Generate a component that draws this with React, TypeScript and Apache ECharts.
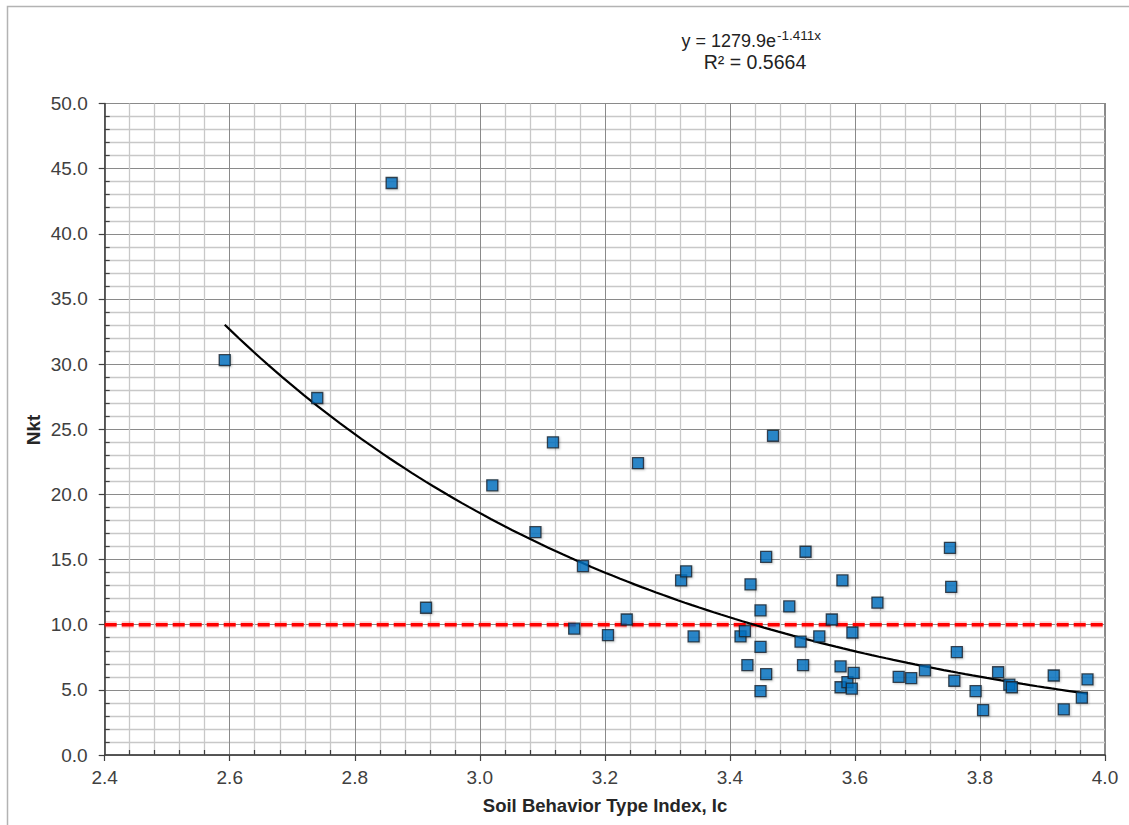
import React, { useEffect, useRef } from "react";
import * as echarts from "echarts";

// Soil Behavior Type Index, Ic
const IC_VALUES = [
  2.592, 2.740, 2.859, 2.914, 3.020, 3.089, 3.117, 3.151, 3.165, 3.205,
  3.235, 3.253, 3.322, 3.330, 3.342, 3.417, 3.424, 3.428, 3.433, 3.449,
  3.449, 3.449, 3.458, 3.458, 3.469, 3.495, 3.513, 3.517, 3.521, 3.543,
  3.563, 3.577, 3.577, 3.580, 3.588, 3.595, 3.596, 3.598, 3.636, 3.670,
  3.690, 3.712, 3.752, 3.754, 3.759, 3.763, 3.793, 3.805, 3.829, 3.847,
  3.851, 3.918, 3.934, 3.963, 3.972,
];
// Nkt
const NKT_VALUES = [
  30.3, 27.4, 43.9, 11.3, 20.7, 17.1, 24.0, 9.7, 14.5, 9.2,
  10.4, 22.4, 13.4, 14.1, 9.1, 9.1, 9.5, 6.9, 13.1, 11.1,
  8.3, 4.9, 15.2, 6.2, 24.5, 11.4, 8.7, 6.9, 15.6, 9.1,
  10.4, 6.8, 5.2, 13.4, 5.6, 5.1, 9.4, 6.3, 11.7, 6.0,
  5.9, 6.5, 15.9, 12.9, 5.7, 7.9, 4.9, 3.45, 6.35, 5.4,
  5.2, 6.1, 3.5, 4.4, 5.8,
];
// Exponential trendline as printed on the chart: y = 1279.9 e^(-1.411 x)
const TREND_A = 1279.9;
const TREND_B = -1.411;
const TREND_LABEL_MAIN = "y = 1279.9e";
const TREND_LABEL_EXP = "-1.411x";
const R2_LABEL = "R² = 0.5664";
// Reference limit line
const NKT_LIMIT = 10;
const X_MIN = 2.4;
const X_MAX = 4.0;
const X_STEP = 0.2;
const Y_MIN = 0;
const Y_MAX = 50;
const Y_STEP = 5;
const X_TITLE = "Soil Behavior Type Index, Ic";
const Y_TITLE = "Nkt";

export default function App() {
  const ref = useRef<HTMLDivElement>(null);
  useEffect(() => {
    if (!ref.current) return;
    const chart = echarts.init(ref.current, null, { renderer: "svg" });
    const points = IC_VALUES.map((x, i) => [x, NKT_VALUES[i]]);
    const xLo = Math.min(...IC_VALUES);
    const xHi = Math.max(...IC_VALUES);
    const trend: number[][] = [];
    const n = 120;
    for (let i = 0; i <= n; i++) {
      const x = xLo + ((xHi - xLo) * i) / n;
      trend.push([x, TREND_A * Math.exp(TREND_B * x)]);
    }
    const limitLine = [[X_MIN, NKT_LIMIT], [X_MAX, NKT_LIMIT]];
    const font = "'Liberation Sans', Arial, sans-serif";
    const axisColor = "#404040";
    const gridRect = { left: 104.7, top: 103.5, width: 1000.3, height: 651.5 };
    chart.setOption({
      animation: false,
      backgroundColor: "#ffffff",
      grid: [
        { ...gridRect, show: true, borderColor: axisColor, borderWidth: 1.2, backgroundColor: "#ffffff" },
        { ...gridRect, show: false },
      ],
      xAxis: [
        {
          type: "value", gridIndex: 0, min: X_MIN, max: X_MAX, interval: X_STEP,
          axisLine: { show: true, onZero: false, lineStyle: { color: axisColor, width: 1.5 } },
          axisTick: { show: true, inside: false, length: 6, lineStyle: { color: axisColor, width: 1.2 } },
          axisLabel: { color: axisColor, fontSize: 19, fontFamily: font, margin: 13, formatter: (v: number) => v.toFixed(1) },
          splitLine: { show: true, lineStyle: { color: "#8a8a8a", width: 1 } },
          minorTick: { show: false },
          minorSplitLine: { show: true, lineStyle: { color: "#c8c8c8", width: 1.3 } },
        },
        {
          type: "value", gridIndex: 1, min: X_MIN, max: X_MAX, interval: X_STEP,
          axisLine: { show: false, onZero: false },
          axisTick: { show: false, inside: true },
          axisLabel: { show: false },
          splitLine: { show: false },
          minorTick: { show: true, splitNumber: 5, length: 5, lineStyle: { color: axisColor, width: 1.2 } },
          minorSplitLine: { show: false },
        },
      ],
      yAxis: [
        {
          type: "value", gridIndex: 0, min: Y_MIN, max: Y_MAX, interval: Y_STEP,
          axisLine: { show: true, onZero: false, lineStyle: { color: axisColor, width: 1.5 } },
          axisTick: { show: true, inside: false, length: 6, lineStyle: { color: axisColor, width: 1.2 } },
          axisLabel: { color: axisColor, fontSize: 19, fontFamily: font, margin: 17, formatter: (v: number) => v.toFixed(1) },
          splitLine: { show: true, lineStyle: { color: "#8a8a8a", width: 1 } },
          minorTick: { show: false },
          minorSplitLine: { show: true, lineStyle: { color: "#c8c8c8", width: 1.3 } },
        },
        {
          type: "value", gridIndex: 1, min: Y_MIN, max: Y_MAX, interval: Y_STEP,
          axisLine: { show: false, onZero: false },
          axisTick: { show: false, inside: true },
          axisLabel: { show: false },
          splitLine: { show: false },
          minorTick: { show: true, splitNumber: 5, length: 5, lineStyle: { color: axisColor, width: 1.2 } },
          minorSplitLine: { show: false },
        },
      ],
      series: [
        {
          type: "line", xAxisIndex: 0, yAxisIndex: 0,
          data: limitLine, symbol: "none",
          lineStyle: { color: "rgba(255,0,0,0.18)", width: 7, type: [12, 5] },
          z: 3, silent: true,
        },
        {
          type: "line", xAxisIndex: 0, yAxisIndex: 0,
          data: limitLine, symbol: "none",
          lineStyle: { color: "#ff0000", width: 3.5, type: [12, 5] },
          z: 3, silent: true,
        },
        {
          type: "line", xAxisIndex: 0, yAxisIndex: 0,
          data: trend, symbol: "none", smooth: false,
          lineStyle: { color: "#000000", width: 2.2 },
          z: 4, silent: true,
        },
        {
          type: "scatter", xAxisIndex: 0, yAxisIndex: 0,
          data: points, symbol: "rect", symbolSize: 11,
          itemStyle: { color: "#0070c0", borderColor: "#17212c", borderWidth: 1.3, shadowColor: "rgba(0,0,0,0.25)", shadowBlur: 2, shadowOffsetX: 1, shadowOffsetY: 1 },
          z: 5,
        },
      ],
      graphic: [
        { type: "rect", shape: { x: 7.5, y: 6.5, width: 1200, height: 900 }, style: { fill: "none", stroke: "#b3b3b3", lineWidth: 1.5 }, silent: true, z: 100 },
        { type: "text", x: 776, y: 41, style: { text: TREND_LABEL_MAIN, fontSize: 18, fontFamily: font, fill: "#222", align: "right", verticalAlign: "middle" } },
        { type: "text", x: 777, y: 35, style: { text: TREND_LABEL_EXP, fontSize: 13.5, fontFamily: font, fill: "#222", align: "left", verticalAlign: "middle" } },
        { type: "text", x: 755, y: 62, style: { text: R2_LABEL, fontSize: 19.5, fontFamily: font, fill: "#222", align: "center", verticalAlign: "middle" } },
        { type: "text", x: 605, y: 805, style: { text: X_TITLE, fontSize: 18.5, fontWeight: "bold", fontFamily: font, fill: "#262626", align: "center", verticalAlign: "middle" } },
        { type: "text", x: 33, y: 430, rotation: Math.PI / 2, style: { text: Y_TITLE, fontSize: 19, fontWeight: "bold", fontFamily: font, fill: "#262626", align: "center", verticalAlign: "middle" } },
      ],
    });
    return () => chart.dispose();
  }, []);
  return (
    <div
      ref={ref}
      style={{ position: "absolute", left: 0, top: 0, width: 1129, height: 825, background: "#fff" }}
    />
  );
}
